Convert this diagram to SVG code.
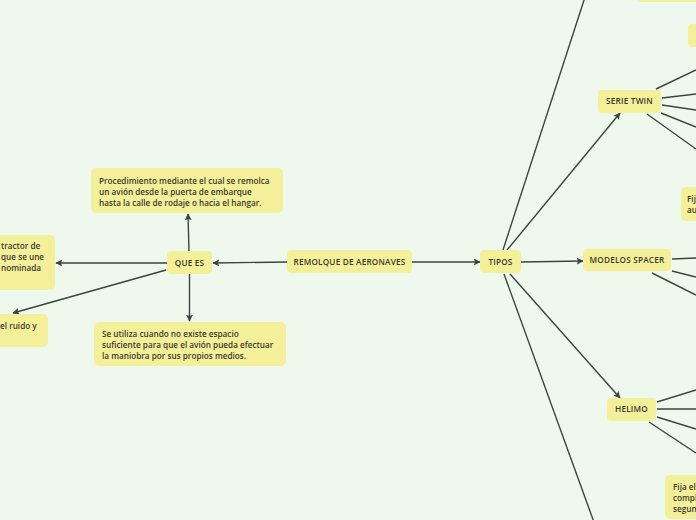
<svg xmlns="http://www.w3.org/2000/svg" width="696" height="520" viewBox="0 0 696 520">
<defs>
<marker id="ah" viewBox="0 0 10 10" refX="9" refY="5" markerWidth="7" markerHeight="7" markerUnits="userSpaceOnUse" orient="auto">
<path d="M0,0 L10,5 L0,10 L2,5 Z" fill="#3a4540"/>
</marker>
<style>
.n{fill:#f4f09a;}
.t{font-family:"Open Sans","Noto Sans","Liberation Sans",sans-serif;font-size:8.2px;font-weight:600;fill:#3b3a2c;}
.h{letter-spacing:0.2px;}
.c line{stroke:#3a4540;stroke-width:1.4;fill:none;}
.a{marker-end:url(#ah);}
</style>
</defs>
<rect width="696" height="520" fill="#eff8ec"/>
<g class="c" id="connectors">
<line class="a" x1="287" y1="262" x2="213" y2="263"/>
<line class="a" x1="411" y1="262" x2="480" y2="262"/>
<line class="a" x1="189" y1="251" x2="188" y2="214"/>
<line class="a" x1="189.5" y1="274" x2="189.5" y2="321"/>
<line class="a" x1="167" y1="263" x2="56" y2="263"/>
<line class="a" x1="166" y1="270" x2="13" y2="313"/>
<line class="a" x1="507" y1="250" x2="620" y2="113"/>
<line x1="503" y1="250" x2="586" y2="-6"/>
<line class="a" x1="521" y1="262" x2="583" y2="261"/>
<line class="a" x1="510" y1="274" x2="620" y2="398"/>
<line x1="504" y1="274" x2="595" y2="525"/>
<line x1="656" y1="89" x2="696" y2="70"/>
<line x1="662" y1="98" x2="696" y2="94"/>
<line x1="662" y1="105" x2="696" y2="110"/>
<line x1="661" y1="113" x2="696" y2="127"/>
<line x1="647" y1="114" x2="696" y2="149"/>
<line x1="672" y1="259" x2="696" y2="258"/>
<line x1="672" y1="271" x2="696" y2="277"/>
<line x1="652" y1="273" x2="696" y2="295"/>
<line x1="657" y1="402" x2="696" y2="390"/>
<line x1="657" y1="409" x2="696" y2="409"/>
<line x1="657" y1="417" x2="696" y2="429"/>
<line x1="649" y1="422" x2="696" y2="453"/>
</g>
<g id="remolque"><rect class="n" x="287" y="250" width="125" height="23" rx="4"/><text class="t h" x="349.5" y="265" text-anchor="middle">REMOLQUE DE AERONAVES</text></g>
<g id="tipos"><rect class="n" x="480" y="250" width="41" height="23" rx="4"/><text class="t h" x="500.5" y="265" text-anchor="middle">TIPOS</text></g>
<g id="quees"><rect class="n" x="167" y="251" width="45" height="23" rx="4"/><text class="t h" x="189.5" y="266" text-anchor="middle">QUE ES</text></g>
<g id="procedimiento"><rect class="n" x="91" y="168" width="192" height="45" rx="5"/>
<text class="t" x="99" y="184">Procedimiento mediante el cual se remolca</text>
<text class="t" x="99" y="195">un avión desde la puerta de embarque</text>
<text class="t" x="99" y="206">hasta la calle de rodaje o hacia el hangar.</text></g>
<g id="seutiliza"><rect class="n" x="94" y="322" width="192" height="44" rx="5"/>
<text class="t" x="102" y="337">Se utiliza cuando no existe espacio</text>
<text class="t" x="102" y="348">suficiente para que el avión pueda efectuar</text>
<text class="t" x="102" y="359">la maniobra por sus propios medios.</text></g>
<g id="left1"><rect class="n" x="-30" y="235" width="85" height="55" rx="5"/>
<text class="t" x="1" y="249">tractor de</text>
<text class="t" x="1" y="260">que se une</text>
<text class="t" x="1" y="271">nominada</text></g>
<g id="left2"><rect class="n" x="-30" y="314" width="78" height="33" rx="5"/>
<text class="t" x="0" y="329">el ruido y</text></g>
<g id="serietwin"><rect class="n" x="598" y="90" width="63" height="23" rx="4"/><text class="t h" x="629.5" y="104" text-anchor="middle">SERIE TWIN</text></g>
<g id="spacer"><rect class="n" x="583" y="249" width="88" height="22" rx="4"/><text class="t h" x="627" y="263" text-anchor="middle">MODELOS SPACER</text></g>
<g id="helimo"><rect class="n" x="607" y="398" width="49" height="23" rx="4"/><text class="t h" x="631.5" y="412" text-anchor="middle">HELIMO</text></g>
<g id="top1"><rect class="n" x="636" y="-30" width="80" height="32" rx="5"/></g>
<g id="top2"><rect class="n" x="688" y="24" width="20" height="23" rx="4"/></g>
<g id="fij"><rect class="n" x="681" y="187" width="30" height="34" rx="5"/>
<text class="t" x="687" y="202">Fij</text>
<text class="t" x="687" y="213">au</text></g>
<g id="fijael"><rect class="n" x="665" y="475" width="40" height="44" rx="5"/>
<text class="t" x="673" y="490">Fija el</text>
<text class="t" x="673" y="501">compl</text>
<text class="t" x="673" y="512">segun</text></g>
</svg>
